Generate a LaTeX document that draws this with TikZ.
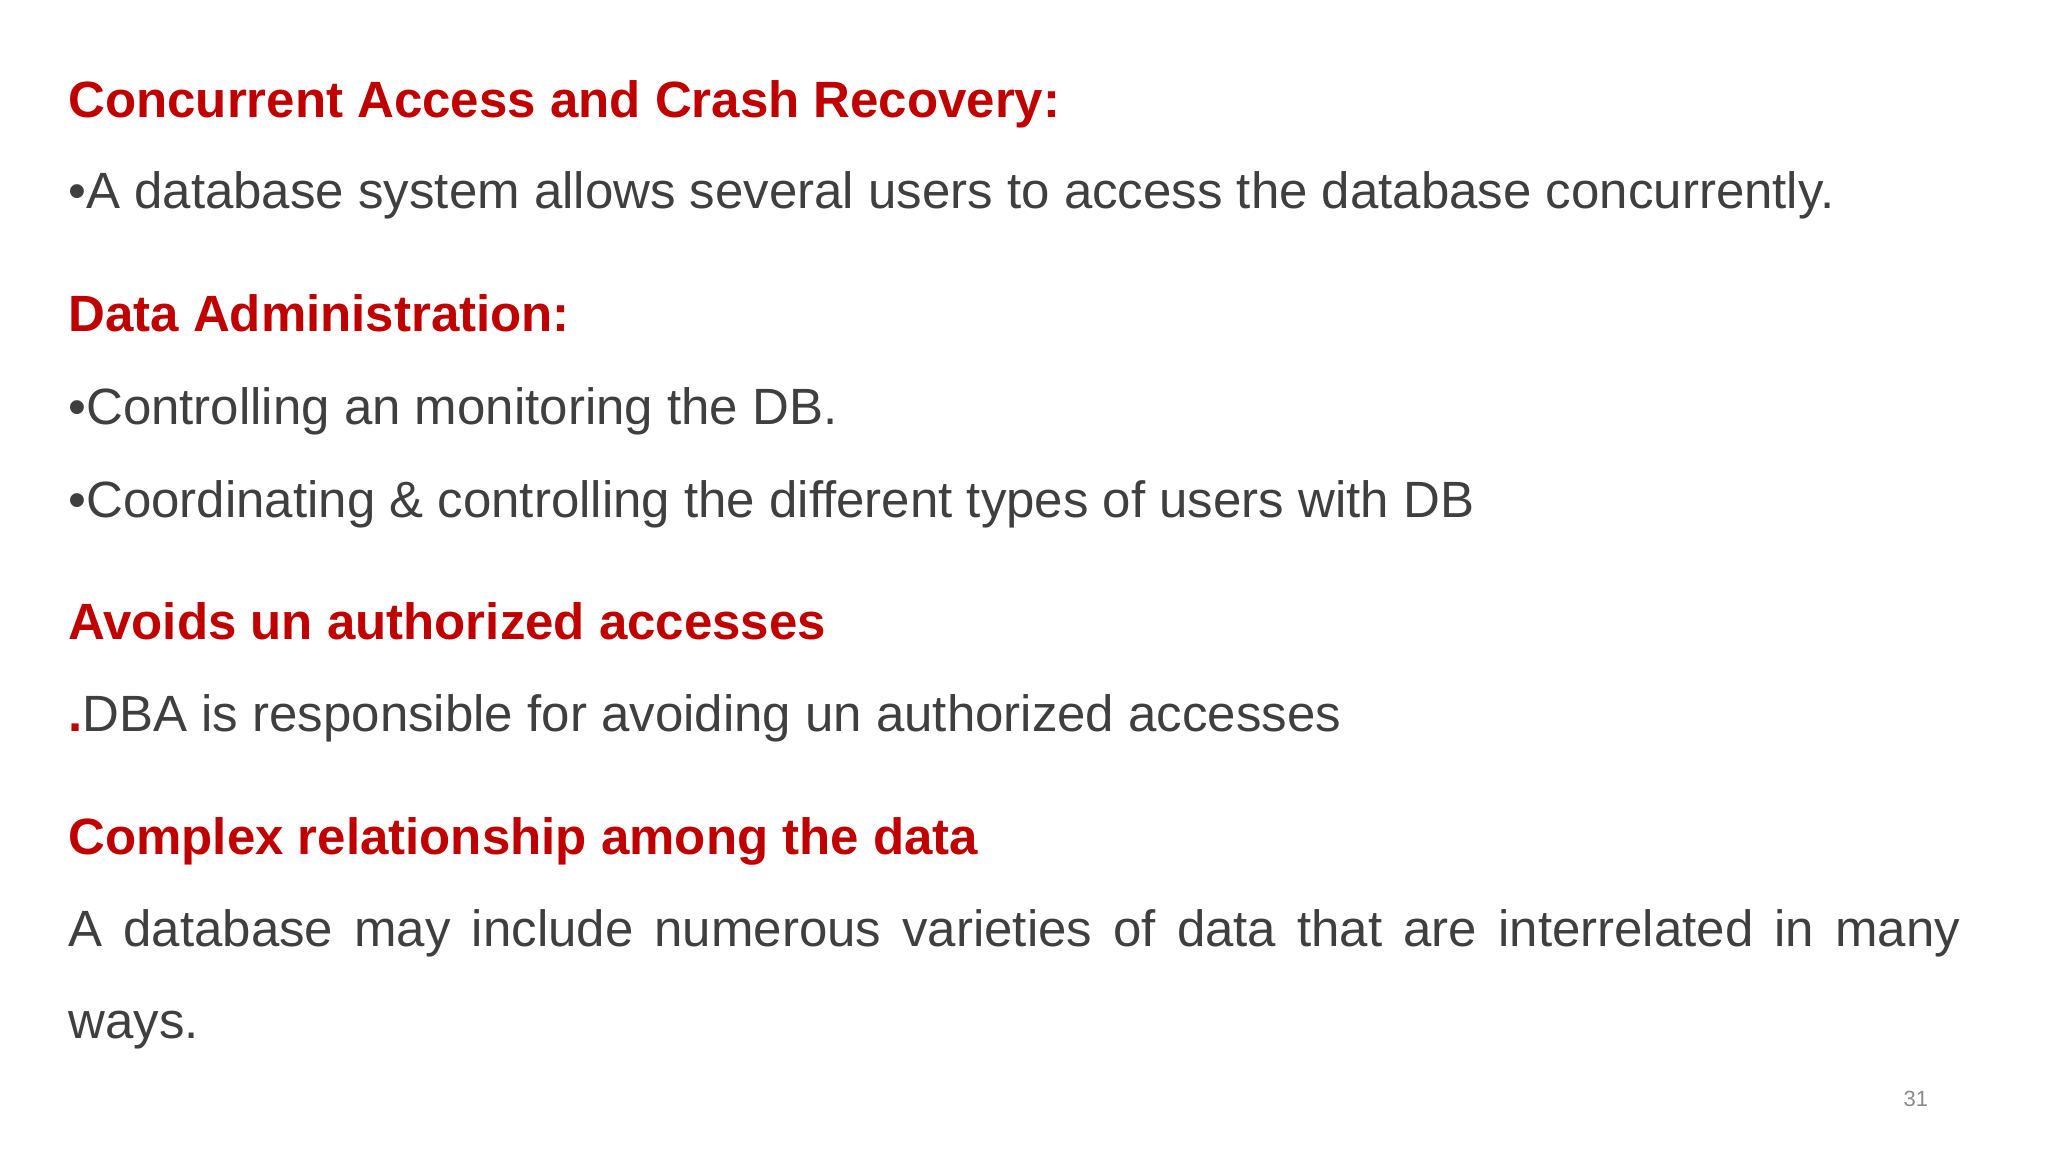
\documentclass[tikz,border=0pt]{standalone}
\usepackage{fontspec}
\setmainfont{Liberation Sans}
\definecolor{hred}{HTML}{C00000}
\definecolor{body}{HTML}{3F3F3F}
\definecolor{pgnum}{HTML}{8C8C8C}
\begin{document}
\begin{tikzpicture}[x=1pt,y=1pt,
  head/.style={anchor=base west,inner sep=0pt,font=\fontsize{25.5}{30}\selectfont\bfseries,text=hred},
  txt/.style={anchor=base west,inner sep=0pt,font=\fontsize{25.5}{30}\selectfont,text=body}]
\useasboundingbox[fill=white] (0,0) rectangle (1024,576);
\def\Y#1{576-#1*0.653}
\node[head] (h1) at (34,{\Y{90}}) {Concurrent Access and Crash Recovery:};
\node[txt] (t1) at (34,{\Y{160}}) {•A database system allows several users to access the database concurrently.};
\node[head] (h2) at (34,{\Y{254}}) {Data Administration:};
\node[txt] (t2) at (34,{\Y{325}}) {•Controlling an monitoring the DB.};
\node[txt] (t3) at (34,{\Y{396}}) {•Coordinating \& controlling the different types of users with DB};
\node[head] (h3) at (34,{\Y{490}}) {Avoids un authorized accesses};
\node[txt] (t4) at (34,{\Y{560}}) {\textcolor{hred}{\textbf{.}}DBA is responsible for avoiding un authorized accesses};
\node[head] (h4) at (34,{\Y{654}}) {Complex relationship among the data};
\node[txt] (t5) at (34,{\Y{725}}) {\makebox[946pt][s]{A database may include numerous varieties of data that are interrelated in many}};
\node[txt] (t6) at (34,{\Y{795}}) {ways.};
\node[anchor=base,inner sep=0pt,font=\fontsize{11}{13}\selectfont,text=pgnum] (pg) at ({1467*0.653},{\Y{847}}) {31};
\end{tikzpicture}
\end{document}
